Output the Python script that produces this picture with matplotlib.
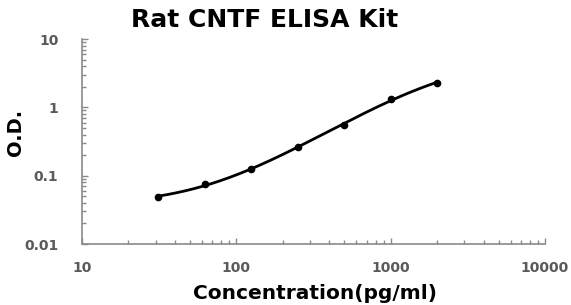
import numpy as np
import matplotlib
matplotlib.use("Agg")
import matplotlib.pyplot as plt
from matplotlib.ticker import LogLocator, FixedLocator, FixedFormatter, NullFormatter

# ---------------------------------------------------------------------------
# Data
# ---------------------------------------------------------------------------
conc = [31.25, 62.5, 125, 250, 500, 1000, 2000]
od = [0.049, 0.075, 0.124, 0.265, 0.56, 1.32, 2.29]

x_ticks = [10, 100, 1000, 10000]
x_labels = ["10", "100", "1000", "10000"]
y_ticks = [0.01, 0.1, 1, 10]
y_labels = ["0.01", "0.1", "1", "10"]

plt.rcParams["font.family"] = ["DejaVu Sans"]


def fit_4pl(x, y):
    """Crude 4-parameter logistic fit: grid over (b, c), linear solve for (a, d)."""
    x = np.asarray(x, float)
    y = np.asarray(y, float)
    best = None
    for b in np.linspace(0.5, 4.0, 141):
        for c in np.logspace(2, 4.5, 201):
            g = 1.0 / (1.0 + (x / c) ** b)
            A = np.column_stack([g, 1 - g]) / y[:, None]
            sol, *_ = np.linalg.lstsq(A, np.ones_like(y), rcond=None)
            pred = A @ sol * y
            if np.any(pred <= 0):
                continue
            err = np.sum((np.log(pred) - np.log(y)) ** 2)
            if best is None or err < best[0]:
                best = (err, sol[0], b, c, sol[1])
    return best[1:]


def model_4pl(x, a, b, c, d):
    return d + (a - d) / (1.0 + (x / c) ** b)


fig = plt.figure(figsize=(5.71, 3.05), dpi=100)
ax = fig.add_axes([0.1436, 0.2, 0.8109, 0.672])

a, b, c, d = fit_4pl(conc, od)
fx = np.logspace(np.log10(conc[0]), np.log10(conc[-1]), 300)
ax.plot(fx, model_4pl(fx, a, b, c, d), color="black", linewidth=2)
ax.plot(conc, od, "o", color="black", markersize=4.5)

ax.set_xscale("log")
ax.set_yscale("log")
ax.set_xlim(10, 10000)
ax.set_ylim(0.01, 10)

for s in ["top", "right"]:
    ax.spines[s].set_visible(False)
for s in ["left", "bottom"]:
    ax.spines[s].set_color("#8a8a8a")
    ax.spines[s].set_linewidth(1.2)

ax.xaxis.set_major_locator(FixedLocator(x_ticks))
ax.xaxis.set_major_formatter(FixedFormatter(x_labels))
ax.yaxis.set_major_locator(FixedLocator(y_ticks))
ax.yaxis.set_major_formatter(FixedFormatter(y_labels))
ax.xaxis.set_minor_locator(LogLocator(base=10, subs=np.arange(2, 10)))
ax.yaxis.set_minor_locator(LogLocator(base=10, subs=np.arange(2, 10)))
ax.xaxis.set_minor_formatter(NullFormatter())
ax.yaxis.set_minor_formatter(NullFormatter())

ax.tick_params(which="both", direction="in", color="#8a8a8a", width=1)
ax.tick_params(which="major", length=4)
ax.tick_params(which="minor", length=3)
ax.tick_params(axis="x", which="major", pad=12, labelsize=10, labelcolor="#5a5a5a")
ax.tick_params(axis="y", which="major", pad=17, labelsize=10, labelcolor="#5a5a5a")
for lab in ax.get_xticklabels() + ax.get_yticklabels():
    lab.set_fontweight("bold")

fig.text(0.464, 0.912, "Rat CNTF ELISA Kit", ha="center", va="baseline",
         fontsize=18, fontweight="bold")
fig.text(0.552, 0.02, "Concentration(pg/ml)", ha="center", va="baseline",
         fontsize=14.5, fontweight="bold")
fig.text(0.027, 0.565, "O.D.", ha="center", va="center", rotation=90,
         fontsize=14, fontweight="bold")

fig.savefig("out.png", dpi=100)
